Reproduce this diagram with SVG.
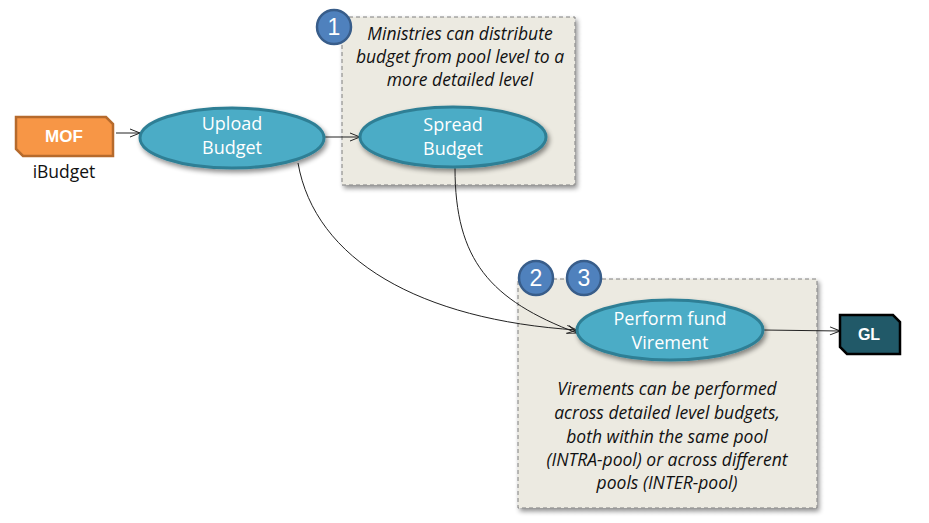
<svg xmlns="http://www.w3.org/2000/svg" width="929" height="523" viewBox="0 0 929 523">
<defs>
<marker id="arr" markerWidth="12" markerHeight="10" refX="11" refY="5" orient="auto" markerUnits="userSpaceOnUse">
<path d="M1,1 L11,5 L1,9" fill="none" stroke="#222" stroke-width="1"/>
</marker>
<filter id="sh" x="-20%" y="-20%" width="140%" height="150%">
<feGaussianBlur in="SourceAlpha" stdDeviation="2.5"/>
<feOffset dx="2" dy="3"/>
<feComponentTransfer><feFuncA type="linear" slope="0.45"/></feComponentTransfer>
<feMerge><feMergeNode/><feMergeNode in="SourceGraphic"/></feMerge>
</filter>
</defs>
<style>
.box{fill:#ECEAE1;stroke:#7F7F7F;stroke-width:1;stroke-dasharray:4 3;}
.ell{fill:#4BACC6;stroke:#2F7F95;stroke-width:3;}
.et{font-family:"Open Sans","Liberation Sans",sans-serif;font-size:18px;fill:#fff;text-anchor:middle;}
.note{font-family:"Open Sans","Liberation Sans",sans-serif;font-style:italic;font-size:17.5px;fill:#111;text-anchor:middle;}
.num{fill:#4F81BD;stroke:#385D8A;stroke-width:2.5;}
.nt{font-family:"Liberation Sans",sans-serif;font-size:23px;fill:#fff;text-anchor:middle;}
.con{fill:none;stroke:#222;stroke-width:1;}
</style>
<rect width="929" height="523" fill="#fff"/>
<g id="box1"><rect class="box" x="342" y="17" width="233" height="168" filter="url(#sh)"/>
<text class="note" x="460" y="40">Ministries can distribute</text>
<text class="note" x="460" y="63">budget from pool level to a</text>
<text class="note" x="460" y="86">more detailed level</text></g>
<g id="box23"><rect class="box" x="518" y="279" width="299" height="229" filter="url(#sh)"/>
<text class="note" x="667" y="395">Virements can be performed</text>
<text class="note" x="667" y="419">across detailed level budgets,</text>
<text class="note" x="667" y="443">both within the same pool</text>
<text class="note" x="667" y="466">(INTRA-pool) or across different</text>
<text class="note" x="667" y="489">pools (INTER-pool)</text></g>
<g id="connectors">
<line class="con" x1="116" y1="133" x2="140" y2="133" marker-end="url(#arr)"/>
<line class="con" x1="325" y1="137" x2="360" y2="137" marker-end="url(#arr)"/>
<path class="con" d="M298,163 C315,260 420,320 577,330" marker-end="url(#arr)"/>
<path class="con" d="M455,168 C455,260 490,300 577,333" marker-end="url(#arr)"/>
<line class="con" x1="763" y1="330" x2="840" y2="331" marker-end="url(#arr)"/>
</g>
<g id="mof"><path d="M16,117 H106 L113,124 V156 H23 L16,149 Z" fill="#F79646" stroke="#B66A2C" stroke-width="2.5"/>
<text x="64" y="142" font-family="Liberation Sans,sans-serif" font-weight="bold" font-size="17" fill="#fff" text-anchor="middle">MOF</text>
<text x="64" y="178" font-family="Open Sans,Liberation Sans,sans-serif" font-size="17.5" fill="#111" text-anchor="middle">iBudget</text></g>
<g id="upload"><ellipse class="ell" cx="232" cy="138" rx="92" ry="30" filter="url(#sh)"/>
<text class="et" x="232" y="130">Upload</text><text class="et" x="232" y="154">Budget</text></g>
<g id="spread"><ellipse class="ell" cx="453" cy="137" rx="93" ry="30" filter="url(#sh)"/>
<text class="et" x="453" y="131">Spread</text><text class="et" x="453" y="155">Budget</text></g>
<g id="virement"><ellipse class="ell" cx="670" cy="330" rx="93" ry="30" filter="url(#sh)"/>
<text class="et" x="670" y="325">Perform fund</text><text class="et" x="670" y="349">Virement</text></g>
<g id="gl"><path d="M840,315 H893 L900,322 V354 H847 L840,347 Z" fill="#215968" stroke="#000" stroke-width="2.5"/>
<text x="869" y="340" font-family="Liberation Sans,sans-serif" font-weight="bold" font-size="16" fill="#fff" text-anchor="middle">GL</text></g>
<g id="n1"><circle class="num" cx="334" cy="27" r="17"/><text class="nt" x="334" y="35">1</text></g>
<g id="n2"><circle class="num" cx="536" cy="278" r="17"/><text class="nt" x="536" y="286">2</text></g>
<g id="n3"><circle class="num" cx="584" cy="278" r="17"/><text class="nt" x="584" y="286">3</text></g>
</svg>
